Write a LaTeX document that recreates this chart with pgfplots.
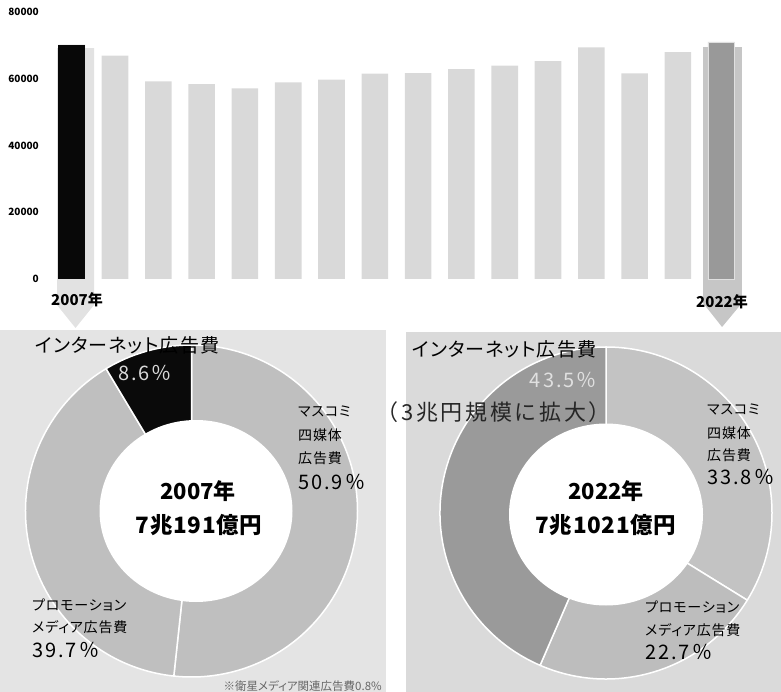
\documentclass[border=0pt]{standalone}
\usepackage{fontspec}
\setmainfont{Noto Sans CJK JP}[RawFeature=+palt]
\newfontfamily\jpsp{Noto Sans CJK JP}[RawFeature=+palt, LetterSpace=6]
\newfontfamily\pct{Noto Sans CJK JP}[LetterSpace=10]
\newfontfamily\paren{Noto Sans CJK JP}[LetterSpace=12]
\newfontfamily\amt{Noto Sans CJK JP}[LetterSpace=3]
\usepackage{pgfplots}
\pgfplotsset{compat=1.18}

\definecolor{barg}{HTML}{D9D9D9}
\definecolor{arrowL}{HTML}{E2E2E2}
\definecolor{arrowR}{HTML}{C6C6C6}
\definecolor{dark22}{HTML}{999999}
\definecolor{panelL}{HTML}{E4E4E4}
\definecolor{panelR}{HTML}{DADADA}
\definecolor{ringL}{HTML}{BFBFBF}
\definecolor{massR}{HTML}{C3C3C3}
\definecolor{promoR}{HTML}{BDBDBD}
\definecolor{netR}{HTML}{9A9A9A}

\newcommand{\fs}[1]{\fontsize{#1}{#1}\selectfont}
% donut slice from a% to b% clockwise from 12 o'clock
\newcommand{\slice}[3]{\filldraw[fill=#3,draw=white,line width=1.5pt]
  (axis cs:0,0) -- ++({90-3.6*#1}:166pt)
  arc[start angle={90-3.6*#1},end angle={90-3.6*#2},radius=166pt] -- cycle;}

\begin{document}
\begin{tikzpicture}[every node/.style={inner sep=0pt}]
\path[use as bounding box] (0,0) rectangle (781pt,-692pt);
\fill[panelL] (0pt,-330pt) rectangle (386pt,-692pt);
\fill[panelR] (406pt,-332pt) rectangle (781pt,-692pt);

% yearly totals (100 million yen)
\begin{axis}[
  at={(42pt,-279pt)}, anchor=south west,
  scale only axis, width=722.5pt, height=267pt,
  xmin=-0.686, xmax=16, ymin=0, ymax=80000,
  axis line style={draw=none}, major tick length=0pt,
  xtick=\empty, ytick={0,20000,40000,60000,80000},
  scaled y ticks=false,
  /pgf/number format/assume math mode=true,
  /pgf/number format/1000 sep={},
  yticklabel style={font=\fs{10}\bfseries, inner sep=3pt},
  clip=false,
]
\addplot[fill=arrowL, draw=none] coordinates {
  (-0.339,69213) (0.515,69213) (0.515,-7790) (0.088,-14682) (-0.339,-7790)};
\addplot[fill=arrowR, draw=none] coordinates {
  (14.58,69513) (15.48,69513) (15.48,-7191) (15.02,-14382) (14.58,-7191)};
\addplot[ybar, bar width=26.6pt, bar shift=0pt, fill=barg, draw=none] coordinates {
  (0,70191) (1,66926) (2,59222) (3,58427) (4,57096) (5,58913) (6,59762) (7,61522)
  (8,61710) (9,62880) (10,63907) (11,65300) (12,69381) (13,61594) (14,67998) (15,71021)};
\addplot[ybar, bar width=26.6pt, bar shift=0pt, fill=black!97, draw=none] coordinates {(0,70191)};
\addplot[ybar, bar width=26pt, bar shift=0pt, fill=dark22, draw=white!88!black, line width=0.7pt] coordinates {(15,71021)};
\end{axis}
\node[font=\fs{15}\bfseries] at (77pt,-300pt) {2007年};
\node[font=\fs{15}\bfseries] at (722pt,-302pt) {2022年};

% 2007 donut
\begin{axis}[at={(191.5pt,-511pt)}, anchor=center, scale only axis,
  width=332pt, height=332pt, xmin=-1, xmax=1, ymin=-1, ymax=1,
  hide axis, clip=false]
\slice{0}{51.7}{ringL}
\slice{51.7}{91.4}{ringL}
\slice{91.4}{100}{black!96}
\fill[white] (axis cs:0,0) ++(4.5pt,0pt) ellipse[x radius=96.5pt, y radius=91pt];
\end{axis}

% 2022 donut
\begin{axis}[at={(606pt,-513pt)}, anchor=center, scale only axis,
  width=332pt, height=332pt, xmin=-1, xmax=1, ymin=-1, ymax=1,
  hide axis, clip=false]
\slice{0}{33.8}{massR}
\slice{33.8}{56.5}{promoR}
\slice{56.5}{100}{netR}
\fill[white] (axis cs:0,0) ++(0pt,-1.5pt) ellipse[x radius=97pt, y radius=91pt];
\end{axis}

% labels 2007
\node[anchor=west, font=\fs{19}\jpsp] at (35pt,-345pt) {インターネット広告費};
\node[font=\fs{20}\pct, text=white!85!black] at (145pt,-373pt) {8.6％};
\node[anchor=west, font=\fs{14}\jpsp] at (298pt,-412pt) {マスコミ};
\node[anchor=west, font=\fs{14}\jpsp] at (298pt,-435pt) {四媒体};
\node[anchor=west, font=\fs{14}\jpsp] at (298pt,-458pt) {広告費};
\node[anchor=west, font=\fs{20}\pct] at (298pt,-482pt) {50.9％};
\node[anchor=west, font=\fs{14}\jpsp] at (32pt,-605pt) {プロモーション};
\node[anchor=west, font=\fs{14}\jpsp] at (32pt,-627pt) {メディア広告費};
\node[anchor=west, font=\fs{20}\pct] at (32pt,-650pt) {39.7％};
\node[font=\fs{22}\bfseries] at (198pt,-491pt) {2007年};
\node[font=\fs{22.5}\amt\bfseries] at (199pt,-525pt) {7兆191億円};
\node[anchor=east, font=\fs{11.5}, text=black!60] at (382pt,-686pt) {※衛星メディア関連広告費0.8\%};

% labels 2022
\node[anchor=west, font=\fs{19}\jpsp] at (412pt,-349pt) {インターネット広告費};
\node[anchor=east, font=\fs{20}\pct, text=white!88!black] at (597pt,-380pt) {43.5％};
\node[anchor=east, font=\fs{22}\paren, text=black!85] at (611pt,-412pt) {（3兆円規模に拡大）};
\node[anchor=west, font=\fs{14}\jpsp] at (707pt,-410pt) {マスコミ};
\node[anchor=west, font=\fs{14}\jpsp] at (707pt,-433pt) {四媒体};
\node[anchor=west, font=\fs{14}\jpsp] at (707pt,-455pt) {広告費};
\node[anchor=west, font=\fs{20}\pct] at (707pt,-477pt) {33.8％};
\node[anchor=west, font=\fs{14}\jpsp] at (645pt,-607pt) {プロモーション};
\node[anchor=west, font=\fs{14}\jpsp] at (645pt,-630pt) {メディア広告費};
\node[anchor=west, font=\fs{20}\pct] at (645pt,-652pt) {22.7％};
\node[font=\fs{22}\bfseries] at (606pt,-491pt) {2022年};
\node[font=\fs{22.5}\amt\bfseries] at (606pt,-525pt) {7兆1021億円};
\end{tikzpicture}
\end{document}
